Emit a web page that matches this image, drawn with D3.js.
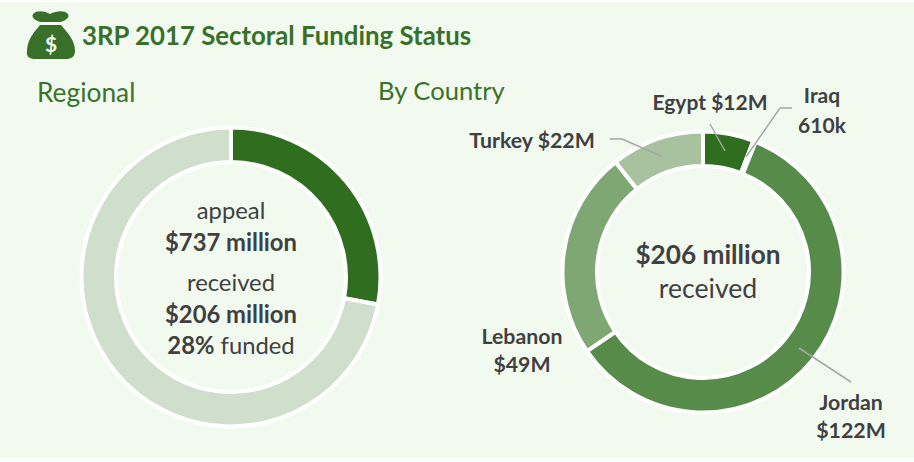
<!DOCTYPE html>
<html><head><meta charset="utf-8">
<script src="https://cdn.jsdelivr.net/npm/d3@7/dist/d3.min.js"></script>
<style>html,body{margin:0;padding:0;background:#fff}svg{display:block}text{font-family:Lato,Carlito,sans-serif}</style>
</head><body><svg id="c" width="914" height="462"></svg>
<script>
const regionalCategories = ["received","unfunded"];
const regionalValues = [206,531];
const regionalColors = ["#2f6e1f","#cfdfcb"];
const countryCategories = ["Egypt","Iraq","Jordan","Lebanon","Turkey"];
const countryValues = [12,0.61,122,49,22];
const countryColors = ["#2f6e1f","#3f7a30","#568b4a","#7ea773","#a8c29f"];
const svg = d3.select("#c");
svg.append("rect").attr("x",0).attr("y",2).attr("width",914).attr("height",456).attr("fill","#f2faf0");
const pie = d3.pie().sort(null).value(d=>d);
function donut(vals,cols,cx,cy,ri,ro,sw){
  const g = svg.append("g").attr("transform",`translate(${cx},${cy})`);
  const arc = d3.arc().innerRadius(ri).outerRadius(ro);
  g.selectAll("path").data(pie(vals)).join("path").attr("d",arc)
   .attr("fill",(d,i)=>cols[i]).attr("stroke","#fff").attr("stroke-width",sw);
}
donut(regionalValues,regionalColors,231,277,115,149.5,4);
donut(countryValues,countryColors,703,272,106,140.5,4);
function t(x,y,parts,size,anchor,fill){
  const e = svg.append("text").attr("x",x).attr("y",y).attr("font-size",size).attr("text-anchor",anchor||"middle").attr("fill",fill||"#404040");
  parts.forEach(p=>e.append("tspan").attr("font-weight",p[1]?700:400).text(p[0]));
}
const green="#3a7328";
t(82,45,[["3RP 2017 Sectoral Funding Status",1]],25.8,"start","#38702a");
t(37,102,[["Regional",0]],26.3,"start",green);
t(378,100,[["By Country",0]],25.6,"start",green);
t(231,219,[["appeal",0]],23.8);
t(231,251,[["$737 million",1]],23.8);
t(231,291,[["received",0]],23.8);
t(231,323,[["$206 million",1]],23.8);
t(231,354,[["28%",1],[" funded",0]],23.8);
t(708,264,[["$206 million",1]],26.2);
t(708,298,[["received",0]],26.6);
t(710,110,[["Egypt $12M",1]],21);
t(822,103,[["Iraq",1]],21);
t(822,133,[["610k",1]],21);
t(532,148,[["Turkey $22M",1]],21.3);
t(522,344,[["Lebanon",1]],21.3);
t(522,372,[["$49M",1]],21.3);
t(851,410,[["Jordan",1]],21.3);
t(851,438,[["$122M",1]],21.3);
const leaderData=[[[710,124],[725,151]],[[792,108],[780,108],[746,157]],[[610,139],[622,139],[661,156]],[[799,348],[851,382]]];
const line=d3.line();
svg.selectAll("path.l").data(leaderData).join("path").attr("class","l").attr("d",line)
 .attr("fill","none").attr("stroke","#a6a6a6").attr("stroke-width",1.5);
// money bag icon
const bag=svg.append("g").attr("fill","#38702a");
bag.append("path").attr("d","M33 14 C37 10 44 11 50 14 C56 11 64 10 68 14 C70 17 66 21 60 22 L41 22 C35 21 31 17 33 14Z");
bag.append("path").attr("d","M40 25 L61 25 C67 32 75 40 75 51 C75 57 71 59 66 59 L35 59 C30 59 26 57 27 51 C27 40 34 32 40 25Z");
svg.append("text").attr("x",51).attr("y",52).attr("text-anchor","middle").attr("font-size",21).attr("font-weight",700).attr("fill","#f2faf0").text("$");
</script></body></html>
